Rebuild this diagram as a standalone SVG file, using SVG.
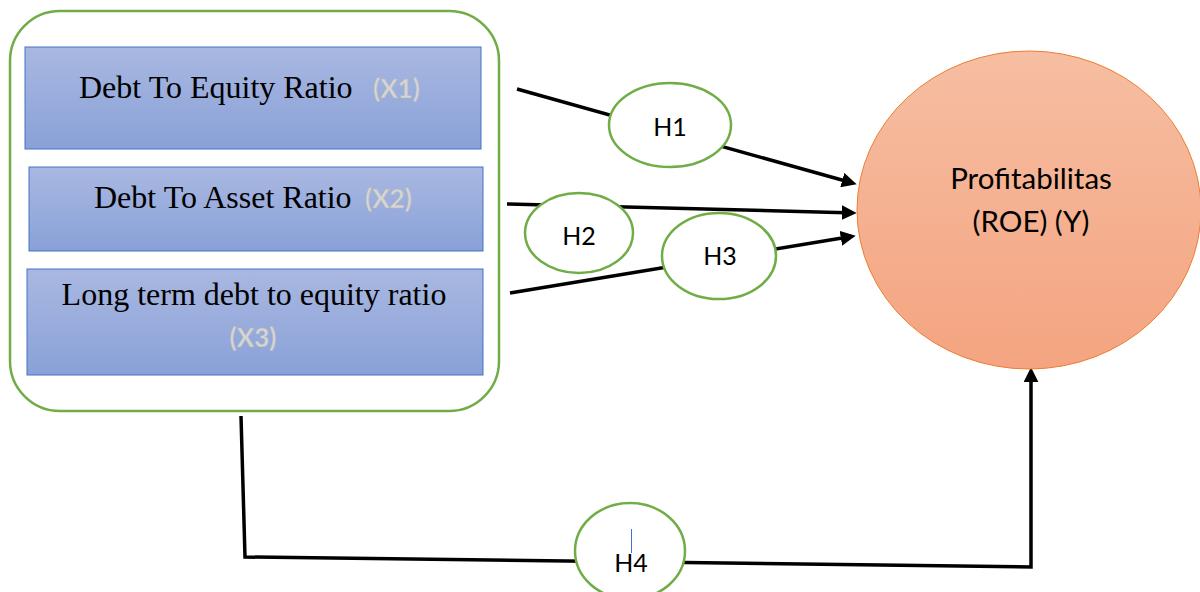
<svg xmlns="http://www.w3.org/2000/svg" width="1200" height="592" viewBox="0 0 1200 592">
<defs>
<linearGradient id="boxGrad" x1="0" y1="0" x2="0" y2="1">
<stop offset="0" stop-color="#A9B8E1"/>
<stop offset="1" stop-color="#89A1D8"/>
</linearGradient>
<linearGradient id="circGrad" x1="0" y1="0" x2="0" y2="1">
<stop offset="0" stop-color="#F6BEA2"/>
<stop offset="1" stop-color="#F4A480"/>
</linearGradient>
<marker id="arrow" markerUnits="userSpaceOnUse" markerWidth="15" markerHeight="15" refX="4" refY="7" orient="auto" viewBox="0 0 14 14">
<path d="M0,0 L14,7 L0,14 z" fill="#000"/>
</marker>
<style>
.box{fill:url(#boxGrad);stroke:#4472C4;stroke-width:1}
.serif{font-family:"Liberation Serif","Times New Roman",serif;font-size:32px;fill:#000}
.tag{font-family:Lato,"Noto Sans",sans-serif;font-size:26px;font-weight:bold;fill:#D6D6D6;stroke:#B5B5B5;stroke-width:0.5}
.hyp{fill:#fff;stroke:#70AD47;stroke-width:2.5}
.sans{font-family:Lato,"Noto Sans",sans-serif;fill:#000}
.conn{fill:none;stroke:#000;stroke-width:3.5}
</style>
</defs>
<rect width="1200" height="592" fill="#fff"/>

<g id="group-x">
<rect x="10" y="11" width="489" height="400" rx="50" ry="50" fill="#fff" stroke="#70AD47" stroke-width="2.5"/>
</g>
<g id="node-x1">
<rect class="box" x="25" y="47" width="456" height="102"/>
<text class="serif" x="79" y="98">Debt To Equity Ratio</text>
<text class="tag" x="373" y="98">(X1)</text>
</g>
<g id="node-x2">
<rect class="box" x="29" y="167" width="454" height="84"/>
<text class="serif" x="94" y="208">Debt To Asset Ratio</text>
<text class="tag" x="365" y="208">(X2)</text>
</g>
<g id="node-x3">
<rect class="box" x="27" y="269" width="456" height="106"/>
<text class="serif" x="254" y="305" text-anchor="middle">Long term debt to equity ratio</text>
<text class="tag" x="253" y="347" text-anchor="middle">(X3)</text>
</g>

<g id="connectors">
<line class="conn" x1="517" y1="89" x2="846.4" y2="181.3" marker-end="url(#arrow)"/>
<line class="conn" x1="507" y1="204" x2="846" y2="212.7" marker-end="url(#arrow)"/>
<line class="conn" x1="510" y1="293" x2="845.1" y2="237.6" marker-end="url(#arrow)"/>
<polyline class="conn" points="241,416 245,557 1031,567 1031,378" marker-end="url(#arrow)"/>
</g>

<g id="node-y">
<ellipse cx="1029" cy="210" rx="172" ry="159" fill="url(#circGrad)" stroke="#ED7D31" stroke-width="1"/>
<text class="sans" x="1031" y="189" font-size="29.5" text-anchor="middle">Profitabilitas</text>
<text class="sans" x="1031" y="232" font-size="29.5" text-anchor="middle">(ROE) (Y)</text>
</g>
<g id="node-h1">
<ellipse class="hyp" cx="670" cy="125" rx="61" ry="42"/>
<text class="sans" x="670" y="136" font-size="25" text-anchor="middle">H1</text>
</g>
<g id="node-h2">
<ellipse class="hyp" cx="579" cy="233" rx="54" ry="40"/>
<text class="sans" x="579" y="245" font-size="25" text-anchor="middle">H2</text>
</g>
<g id="node-h3">
<ellipse class="hyp" cx="719" cy="256" rx="57" ry="43"/>
<text class="sans" x="720" y="265" font-size="25" text-anchor="middle">H3</text>
</g>
<g id="node-h4">
<ellipse class="hyp" cx="630" cy="551" rx="55" ry="48"/>
<line x1="631.5" y1="529" x2="631.5" y2="553" stroke="#4472C4" stroke-width="1"/>
<text class="sans" x="631" y="572" font-size="25" text-anchor="middle">H4</text>
</g>
</svg>
